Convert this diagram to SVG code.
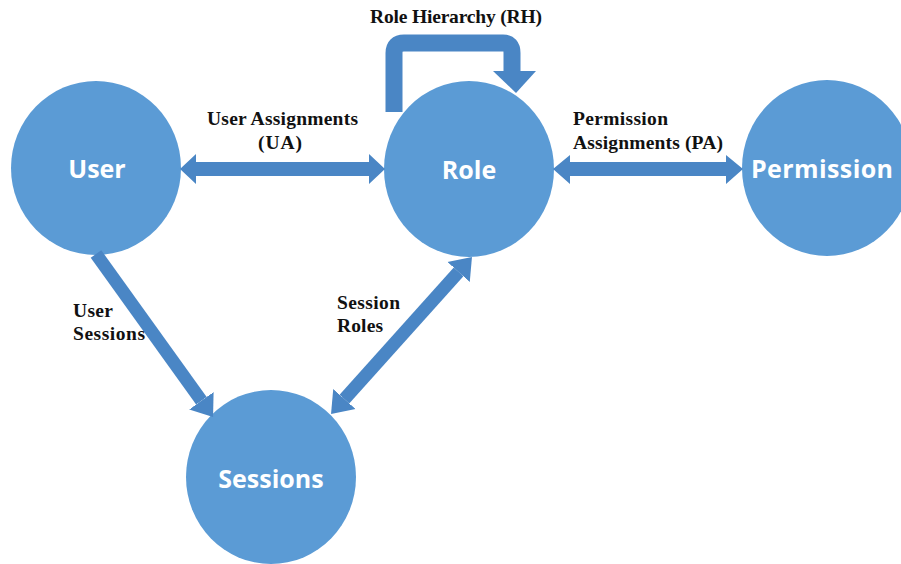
<svg xmlns="http://www.w3.org/2000/svg" width="901" height="564" viewBox="0 0 901 564">
<style>
.node{fill:#5B9BD5;}
.ntext{fill:#FFFFFF;font-family:"Open Sans","Liberation Sans",sans-serif;font-weight:bold;font-size:25px;text-anchor:middle;}
.arrow{fill:#4A86C5;stroke:none;}
.shaft{stroke:#4A86C5;fill:none;}
.lbl{fill:#111111;font-family:"Liberation Serif","DejaVu Serif",serif;font-weight:bold;font-size:19.5px;}
</style>
<defs>
<marker id="head" markerUnits="userSpaceOnUse" markerWidth="20" markerHeight="32" viewBox="0 -16 20 32" refX="0" refY="0" orient="auto-start-reverse">
<path d="M0,-15 L20,0 L0,15 Z" fill="#4A86C5"/>
</marker>
</defs>
<rect width="901" height="564" fill="#FFFFFF"/>
<g id="user"><ellipse class="node" cx="96" cy="168" rx="85" ry="87"/><text class="ntext" x="97" y="178">User</text></g>
<g id="role"><ellipse class="node" cx="469" cy="169" rx="85" ry="88"/><text class="ntext" x="469" y="179">Role</text></g>
<g id="permission"><ellipse class="node" cx="827" cy="168" rx="85" ry="88"/><text class="ntext" x="822" y="178" textLength="142">Permission</text></g>
<g id="sessions"><ellipse class="node" cx="271" cy="477" rx="85" ry="87"/><text class="ntext" x="271" y="488">Sessions</text></g>
<g id="connectors">
<path class="arrow" d="M180,169 L196,154 L196,162 L369,162 L369,154 L385,169 L369,184 L369,176 L196,176 L196,184 Z"/>
<path class="arrow" d="M553,169 L570,155 L570,162 L726,162 L726,155 L743,169 L726,184 L726,176 L570,176 L570,184 Z"/>
<path class="shaft" stroke-width="17" d="M394,112 V53 Q394,43 404,43 H503 Q512,43 512,53 V73"/>
<path class="arrow" d="M493,71 L536,71 L516,93 Z"/>
<line class="shaft" stroke-width="13" x1="96" y1="254" x2="201.4" y2="400.8" marker-end="url(#head)"/>
<line class="shaft" stroke-width="13" x1="344.4" y1="399.1" x2="458.6" y2="271.9" marker-start="url(#head)" marker-end="url(#head)"/>
</g>
<g id="labels">
<text class="lbl" x="370" y="23" textLength="172">Role Hierarchy (RH)</text>
<text class="lbl" x="207" y="125" textLength="151">User Assignments</text>
<text class="lbl" x="258" y="149" textLength="44">(UA)</text>
<text class="lbl" x="573" y="125" textLength="95">Permission</text>
<text class="lbl" x="573" y="149" textLength="150">Assignments (PA)</text>
<text class="lbl" x="73" y="317" textLength="40">User</text>
<text class="lbl" x="73" y="340" textLength="72">Sessions</text>
<text class="lbl" x="337" y="309" textLength="63">Session</text>
<text class="lbl" x="337" y="332" textLength="46">Roles</text>
</g>
</svg>
